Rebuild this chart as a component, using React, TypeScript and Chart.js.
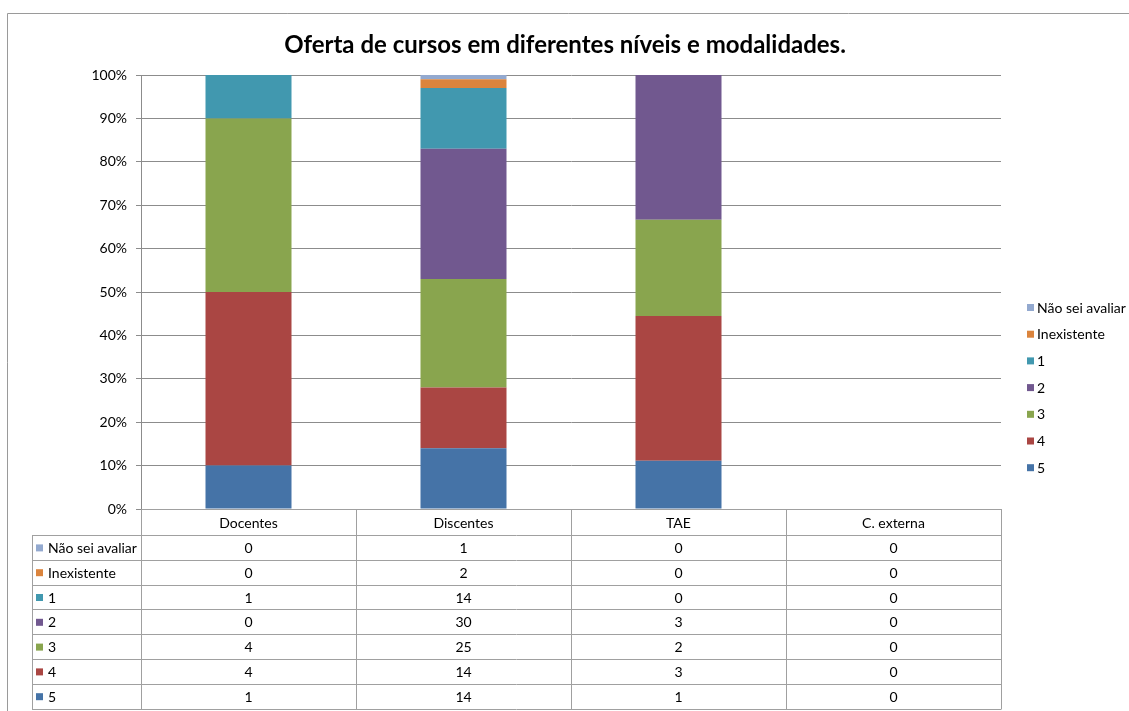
import React, { useEffect, useRef } from "react";
import { Chart, registerables } from "chart.js";

Chart.register(...registerables);

const TITLE = "Oferta de cursos em diferentes níveis e modalidades.";
const categories = ["Docentes", "Discentes", "TAE", "C. externa"];
const seriesNames = ["5", "4", "3", "2", "1", "Inexistente", "Não sei avaliar"];
const v5 = [1, 14, 1, 0];
const v4 = [4, 14, 3, 0];
const v3 = [4, 25, 2, 0];
const v2 = [0, 30, 3, 0];
const v1 = [1, 14, 0, 0];
const vInex = [0, 2, 0, 0];
const vNsa = [0, 1, 0, 0];
const seriesValues = [v5, v4, v3, v2, v1, vInex, vNsa];
const colors = ["#4573A7", "#AA4643", "#89A54E", "#71588F", "#4198AF", "#DB843D", "#93A9CF"];
const yTicks = [0, 10, 20, 30, 40, 50, 60, 70, 80, 90, 100];

const W = 1129;
const H = 711;
const FONT = "Lato";

const totals = categories.map((_, i) => seriesValues.reduce((s, arr) => s + arr[i], 0));

const tablePlugin = {
  id: "excelTable",
  afterDraw(chart: any) {
    const ctx = chart.ctx as CanvasRenderingContext2D;
    const area = chart.chartArea;
    const xs = chart.scales.x;
    ctx.save();
    // outer chart border
    ctx.strokeStyle = "#9a9a9a";
    ctx.lineWidth = 1;
    ctx.beginPath();
    ctx.moveTo(7.5, H);
    ctx.lineTo(7.5, 13.5);
    ctx.lineTo(W, 13.5);
    ctx.stroke();

    // title
    ctx.fillStyle = "#000";
    ctx.font = `bold 24px ${FONT}`;
    ctx.textAlign = "center";
    ctx.textBaseline = "middle";
    ctx.fillText(TITLE, 565, 45);

    // table
    const left = area.left;
    const right = area.right;
    const top = area.bottom;
    const headerH = 26;
    const rowH = 24.8;
    const nRows = seriesNames.length;
    const tableLeft = 32;
    const colW = (right - left) / categories.length;
    ctx.strokeStyle = "#a0a0a0";
    ctx.lineWidth = 1;
    ctx.beginPath();
    ctx.moveTo(left, Math.round(top) + 0.5);
    ctx.lineTo(right, Math.round(top) + 0.5);
    for (let r = 0; r <= nRows; r++) {
      const y = Math.round(top + headerH + r * rowH) + 0.5;
      ctx.moveTo(tableLeft, y);
      ctx.lineTo(right, y);
    }
    const bottomY = Math.round(top + headerH + nRows * rowH) + 0.5;
    ctx.moveTo(tableLeft + 0.5, top + headerH);
    ctx.lineTo(tableLeft + 0.5, bottomY);
    for (let c = 0; c <= categories.length; c++) {
      const x = Math.round(left + c * colW) + 0.5;
      ctx.moveTo(x, top);
      ctx.lineTo(x, bottomY);
    }
    ctx.stroke();

    ctx.fillStyle = "#000";
    ctx.font = `14px ${FONT}`;
    ctx.textAlign = "center";
    ctx.textBaseline = "middle";
    categories.forEach((c, i) => {
      ctx.fillText(c, xs.getPixelForValue(i), top + headerH / 2 + 1);
    });
    for (let r = 0; r < nRows; r++) {
      const si = nRows - 1 - r;
      const yc = top + headerH + r * rowH + rowH / 2 + 1;
      ctx.fillStyle = colors[si];
      ctx.fillRect(tableLeft + 4, yc - 4, 7, 7);
      ctx.fillStyle = "#000";
      ctx.textAlign = "left";
      ctx.fillText(seriesNames[si], tableLeft + 16, yc);
      ctx.textAlign = "center";
      seriesValues[si].forEach((v, i) => {
        ctx.fillText(String(v), xs.getPixelForValue(i), yc);
      });
    }

    // right legend
    const legX = 1027;
    const legY0 = 308;
    const legStep = 26.7;
    ctx.textAlign = "left";
    for (let r = 0; r < nRows; r++) {
      const si = nRows - 1 - r;
      const yc = legY0 + r * legStep;
      ctx.fillStyle = colors[si];
      ctx.fillRect(legX, yc - 4, 7, 7);
      ctx.fillStyle = "#000";
      ctx.fillText(seriesNames[si], legX + 10, yc);
    }
    ctx.restore();
  },
};

export default function App() {
  const ref = useRef<HTMLCanvasElement>(null);
  useEffect(() => {
    if (!ref.current) return;
    const chart = new Chart(ref.current, {
      type: "bar",
      data: {
        labels: categories,
        datasets: seriesNames.map((name, si) => ({
          label: name,
          data: seriesValues[si].map((v, i) => (totals[i] ? (v / totals[i]) * 100 : 0)),
          backgroundColor: colors[si],
          borderWidth: 0,
          barPercentage: 0.4,
          categoryPercentage: 1,
        })),
      },
      options: {
        responsive: false,
        animation: false,
        devicePixelRatio: 1,
        layout: { padding: { top: 75, left: 0, right: W - 1001, bottom: H - 509 } },
        plugins: { legend: { display: false }, title: { display: false }, tooltip: { enabled: false } },
        scales: {
          x: { stacked: true, display: false },
          y: {
            stacked: true,
            min: 0,
            max: 100,
            afterFit: (s: any) => {
              s.width = 141;
            },
            afterBuildTicks: (s: any) => {
              s.ticks = yTicks.map((v) => ({ value: v }));
            },
            ticks: {
              callback: (v: any) => `${v}%`,
              padding: 9,
              color: "#000",
              font: { family: FONT, size: 14 },
            },
            grid: { color: "#8c8c8c", tickLength: 5, drawTicks: true },
            border: { color: "#8c8c8c" },
          },
        },
      },
      plugins: [tablePlugin],
    });
    return () => chart.destroy();
  }, []);
  return (
    <div style={{ position: "fixed", left: 0, top: 0, width: W, height: H, background: "#fff" }}>
      <canvas ref={ref} width={W} height={H} style={{ width: W, height: H, display: "block" }} />
    </div>
  );
}
